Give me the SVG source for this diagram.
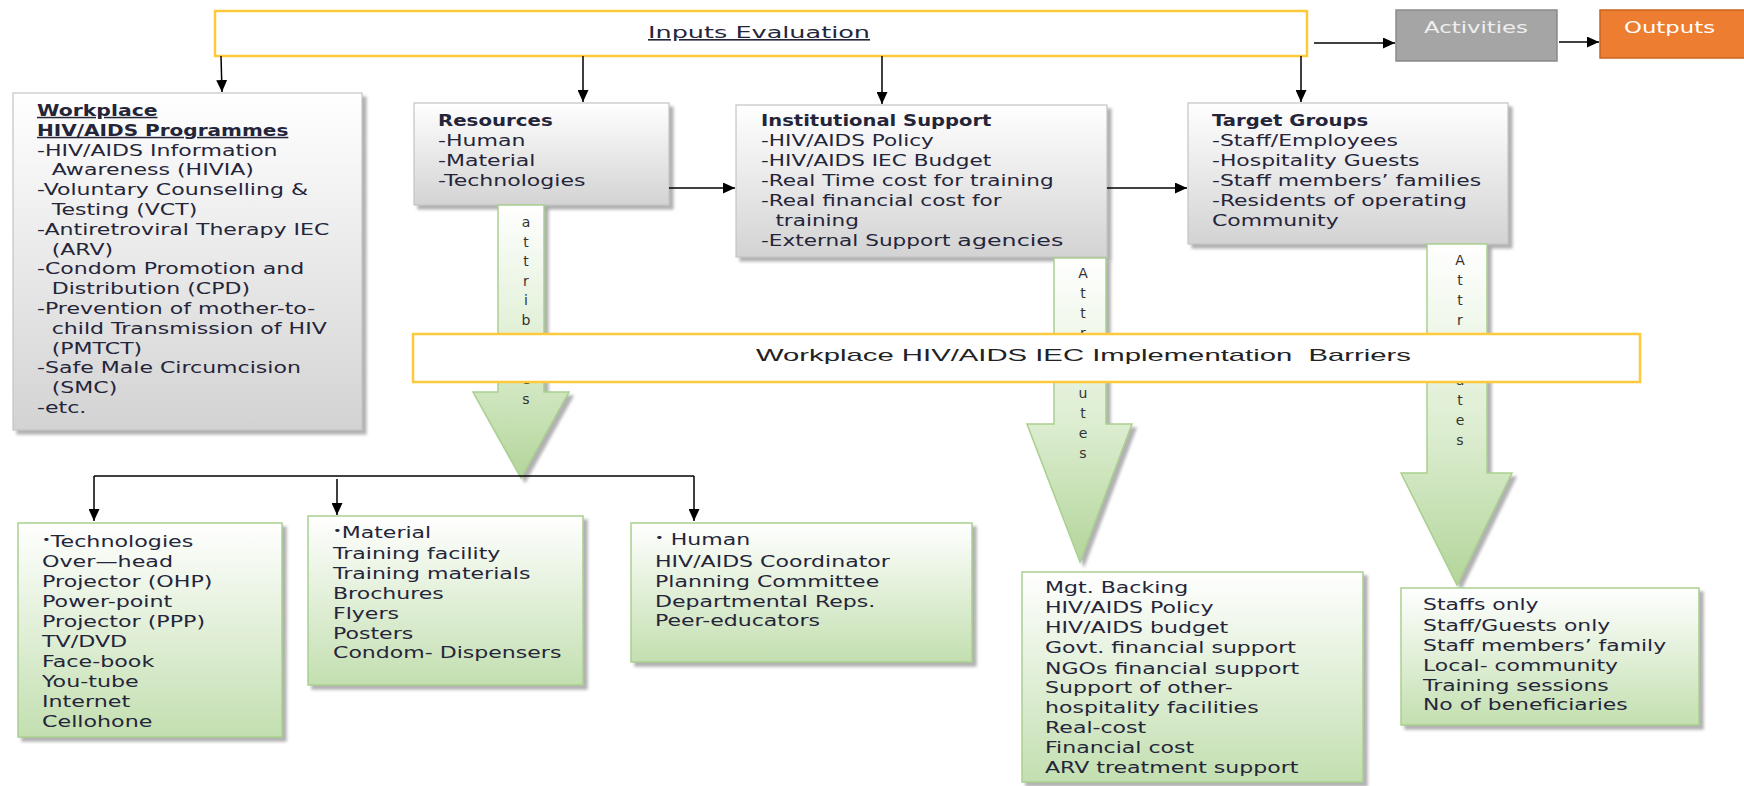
<svg xmlns="http://www.w3.org/2000/svg" width="1744" height="786" viewBox="0 0 1744 786">
<style>
.t{font-family:"DejaVu Sans",Verdana,sans-serif;font-size:15px;fill:#25253a}
.b{font-weight:bold}
.u{text-decoration:underline}
.gbox{fill:url(#gGray);stroke:#c4c4c4;stroke-width:1.2}
.nbox{fill:url(#gGreen);stroke:#a9d08e;stroke-width:1.5}
.ybox{fill:#fff;stroke:#ffc93c;stroke-width:2.5}
.barrow{fill:url(#gArrow);stroke:#a9d08e;stroke-width:1.5}
.lt{font-family:"DejaVu Sans",Verdana,sans-serif;font-size:14px;fill:#333;text-anchor:middle}
.con{stroke:#000;stroke-width:1.5;fill:none}
</style>
<defs>
<linearGradient id="gGray" x1="0" y1="0" x2="0" y2="1"><stop offset="0" stop-color="#ffffff"/><stop offset="1" stop-color="#d3d3d3"/></linearGradient>
<linearGradient id="gGreen" x1="0" y1="0" x2="0" y2="1"><stop offset="0" stop-color="#ffffff"/><stop offset="1" stop-color="#c3dfb0"/></linearGradient>
<linearGradient id="gArrow" x1="0" y1="0" x2="0" y2="1"><stop offset="0" stop-color="#ffffff"/><stop offset="0.55" stop-color="#dcedd0"/><stop offset="1" stop-color="#b3d59a"/></linearGradient>
<filter id="sh" x="-5%" y="-5%" width="115%" height="115%"><feDropShadow dx="4" dy="4" stdDeviation="1.5" flood-color="#7f7f7f" flood-opacity="0.6"/></filter>
<marker id="ah" markerUnits="userSpaceOnUse" markerWidth="12" markerHeight="11" refX="12" refY="5.5" orient="auto"><path d="M0,0 L12,5.5 L0,11 z" fill="#000"/></marker>
</defs>

<g id="inputs-evaluation">
<rect class="ybox" x="215" y="11" width="1092" height="45"/>
<text class="t u" x="648" y="38" textLength="222" lengthAdjust="spacingAndGlyphs" style="font-size:16px">Inputs Evaluation</text>
</g>

<g id="activities">
<rect x="1396" y="10" width="161" height="51" fill="#a5a5a5" stroke="#8a8a8a" stroke-width="1.5"/>
<text class="t" x="1424" y="33" textLength="104" lengthAdjust="spacingAndGlyphs" style="fill:#eeeeee">Activities</text>
</g>

<g id="outputs">
<rect x="1600" y="10" width="150" height="48" fill="#ed7d31" stroke="#c9641f" stroke-width="1.5"/>
<text class="t" x="1624" y="33" textLength="91" lengthAdjust="spacingAndGlyphs" style="fill:#ffffff">Outputs</text>
</g>

<g id="workplace-programmes">
<rect class="gbox" x="13" y="93" width="349" height="337" filter="url(#sh)"/>
<g transform="translate(37,0) scale(1.47,1)">
<text class="t b u" x="0" y="116" textLength="82" lengthAdjust="spacingAndGlyphs">Workplace</text>
<text class="t b u" x="0" y="136" textLength="171" lengthAdjust="spacingAndGlyphs">HIV/AIDS Programmes</text>
<text class="t" x="0" y="156">-HIV/AIDS Information</text>
<text class="t" x="10" y="175">Awareness (HIVIA)</text>
<text class="t" x="0" y="195">-Voluntary Counselling &amp;</text>
<text class="t" x="10" y="215">Testing (VCT)</text>
<text class="t" x="0" y="235">-Antiretroviral Therapy IEC</text>
<text class="t" x="10" y="255">(ARV)</text>
<text class="t" x="0" y="274">-Condom Promotion and</text>
<text class="t" x="10" y="294">Distribution (CPD)</text>
<text class="t" x="0" y="314">-Prevention of mother-to-</text>
<text class="t" x="10" y="334">child Transmission of HIV</text>
<text class="t" x="10" y="354">(PMTCT)</text>
<text class="t" x="0" y="373">-Safe Male Circumcision</text>
<text class="t" x="10" y="393">(SMC)</text>
<text class="t" x="0" y="413">-etc.</text>
</g>
</g>

<g id="resources">
<rect class="gbox" x="414" y="103" width="255" height="102" filter="url(#sh)"/>
<g transform="translate(438,0) scale(1.47,1)">
<text class="t b" x="0" y="126" textLength="78" lengthAdjust="spacingAndGlyphs">Resources</text>
<text class="t" x="0" y="146">-Human</text>
<text class="t" x="0" y="166">-Material</text>
<text class="t" x="0" y="186">-Technologies</text>
</g>
</g>

<g id="institutional-support">
<rect class="gbox" x="736" y="105" width="371" height="152" filter="url(#sh)"/>
<g transform="translate(761,0) scale(1.44,1)">
<text class="t b" x="0" y="126" textLength="160" lengthAdjust="spacingAndGlyphs">Institutional Support</text>
<text class="t" x="0" y="146">-HIV/AIDS Policy</text>
<text class="t" x="0" y="166">-HIV/AIDS IEC Budget</text>
<text class="t" x="0" y="186">-Real Time cost for training</text>
<text class="t" x="0" y="206">-Real financial cost for</text>
<text class="t" x="10" y="226">training</text>
<text class="t" x="0" y="246">-External Support <tspan style="font-size:16.5px">agencies</tspan></text>
</g>
</g>

<g id="target-groups">
<rect class="gbox" x="1188" y="103" width="320" height="141" filter="url(#sh)"/>
<g transform="translate(1212,0) scale(1.46,1)">
<text class="t b" x="0" y="126" textLength="107" lengthAdjust="spacingAndGlyphs">Target Groups</text>
<text class="t" x="0" y="146">-Staff/Employees</text>
<text class="t" x="0" y="166">-Hospitality Guests</text>
<text class="t" x="0" y="186">-Staff members’ families</text>
<text class="t" x="0" y="206">-Residents of operating</text>
<text class="t" x="0" y="226">Community</text>
</g>
</g>

<g id="attributes-resources">
<path class="barrow" d="M498,205 H544 V392 H569 L521,478 L473,392 H498 Z" filter="url(#sh)"/>
<text class="lt"><tspan x="526" y="227">a</tspan><tspan x="526" y="247">t</tspan><tspan x="526" y="266">t</tspan><tspan x="526" y="286">r</tspan><tspan x="526" y="305">i</tspan><tspan x="526" y="325">b</tspan><tspan x="526" y="345">u</tspan><tspan x="526" y="364">t</tspan><tspan x="526" y="384">e</tspan><tspan x="526" y="404">s</tspan></text>
</g>

<g id="attributes-institutional">
<path class="barrow" d="M1054,258 H1106 V424 H1132 L1080,562 L1027,424 H1054 Z" filter="url(#sh)"/>
<text class="lt"><tspan x="1083" y="278">A</tspan><tspan x="1083" y="298">t</tspan><tspan x="1083" y="318">t</tspan><tspan x="1083" y="338">r</tspan><tspan x="1083" y="398">u</tspan><tspan x="1083" y="418">t</tspan><tspan x="1083" y="438">e</tspan><tspan x="1083" y="458">s</tspan></text>
</g>

<g id="attributes-target">
<path class="barrow" d="M1427,244 H1487 V473 H1512 L1457,585 L1401,473 H1427 Z" filter="url(#sh)"/>
<text class="lt"><tspan x="1460" y="265">A</tspan><tspan x="1460" y="285">t</tspan><tspan x="1460" y="305">t</tspan><tspan x="1460" y="325">r</tspan><tspan x="1460" y="345">i</tspan><tspan x="1460" y="365">b</tspan><tspan x="1460" y="385">u</tspan><tspan x="1460" y="405">t</tspan><tspan x="1460" y="425">e</tspan><tspan x="1460" y="445">s</tspan></text>
</g>

<g id="implementation-barriers">
<rect class="ybox" x="413" y="334" width="1227" height="48"/>
<text x="756" y="361" xml:space="preserve" textLength="655" lengthAdjust="spacingAndGlyphs" style="font-family:'Liberation Sans',Arial,sans-serif;font-size:17px;fill:#222">Workplace HIV/AIDS IEC Implementation  Barriers</text>
</g>

<g id="connectors">
<path class="con" d="M221,56 L222,92" marker-end="url(#ah)"/>
<path class="con" d="M583,56 V102" marker-end="url(#ah)"/>
<path class="con" d="M882,56 V104" marker-end="url(#ah)"/>
<path class="con" d="M1301,56 V102" marker-end="url(#ah)"/>
<path class="con" d="M1314,43 H1395" marker-end="url(#ah)"/>
<path class="con" d="M1559,42 H1599" marker-end="url(#ah)"/>
<path class="con" d="M669,188 H735" marker-end="url(#ah)"/>
<path class="con" d="M1107,188 H1187" marker-end="url(#ah)"/>
<path class="con" d="M94,476 H694"/>
<path class="con" d="M94,476 V521" marker-end="url(#ah)"/>
<path class="con" d="M337,479 V515" marker-end="url(#ah)"/>
<path class="con" d="M694,476 V521" marker-end="url(#ah)"/>
</g>

<g id="technologies">
<rect class="nbox" x="18" y="523" width="264" height="214" filter="url(#sh)"/>
<g transform="translate(42,0) scale(1.48,1)">
<text class="t" x="0" y="547"><tspan style="font-size:10px" dy="-4">•</tspan><tspan dy="4">Technologies</tspan></text>
<text class="t" x="0" y="567">Over—head</text>
<text class="t" x="0" y="587">Projector (OHP)</text>
<text class="t" x="0" y="607">Power-point</text>
<text class="t" x="0" y="627">Projector (PPP)</text>
<text class="t" x="0" y="647">TV/DVD</text>
<text class="t" x="0" y="667">Face-book</text>
<text class="t" x="0" y="687">You-tube</text>
<text class="t" x="0" y="707">Internet</text>
<text class="t" x="0" y="727">Cellohone</text>
</g>
</g>

<g id="material">
<rect class="nbox" x="308" y="516" width="275" height="169" filter="url(#sh)"/>
<g transform="translate(333,0) scale(1.47,1)">
<text class="t" x="0" y="538"><tspan style="font-size:10px" dy="-4">•</tspan><tspan dy="4">Material</tspan></text>
<text class="t" x="0" y="559">Training facility</text>
<text class="t" x="0" y="579">Training materials</text>
<text class="t" x="0" y="599">Brochures</text>
<text class="t" x="0" y="619">Flyers</text>
<text class="t" x="0" y="639">Posters</text>
<text class="t" x="0" y="658">Condom- Dispensers</text>
</g>
</g>

<g id="human">
<rect class="nbox" x="631" y="523" width="341" height="139" filter="url(#sh)"/>
<g transform="translate(655,0) scale(1.47,1)">
<text class="t" x="0" y="545"><tspan style="font-size:10px" dy="-4">•</tspan><tspan dy="4"> Human</tspan></text>
<text class="t" x="0" y="567">HIV/AIDS Coordinator</text>
<text class="t" x="0" y="587">Planning Committee</text>
<text class="t" x="0" y="607">Departmental Reps.</text>
<text class="t" x="0" y="626">Peer-educators</text>
</g>
</g>

<g id="institutional-attributes">
<rect class="nbox" x="1022" y="572" width="341" height="210" filter="url(#sh)"/>
<g transform="translate(1045,0) scale(1.47,1)">
<text class="t" x="0" y="593">Mgt. Backing</text>
<text class="t" x="0" y="613">HIV/AIDS Policy</text>
<text class="t" x="0" y="633">HIV/AIDS budget</text>
<text class="t" x="0" y="653">Govt. financial support</text>
<text class="t" x="0" y="674">NGOs financial support</text>
<text class="t" x="0" y="693">Support of other-</text>
<text class="t" x="0" y="713">hospitality facilities</text>
<text class="t" x="0" y="733">Real-cost</text>
<text class="t" x="0" y="753">Financial cost</text>
<text class="t" x="0" y="773">ARV treatment support</text>
</g>
</g>

<g id="target-attributes">
<rect class="nbox" x="1401" y="588" width="298" height="137" filter="url(#sh)"/>
<g transform="translate(1423,0) scale(1.46,1)">
<text class="t" x="0" y="610">Staffs only</text>
<text class="t" x="0" y="631">Staff/Guests only</text>
<text class="t" x="0" y="651">Staff members’ family</text>
<text class="t" x="0" y="671">Local- community</text>
<text class="t" x="0" y="691">Training sessions</text>
<text class="t" x="0" y="710">No of beneficiaries</text>
</g>
</g>
</svg>
